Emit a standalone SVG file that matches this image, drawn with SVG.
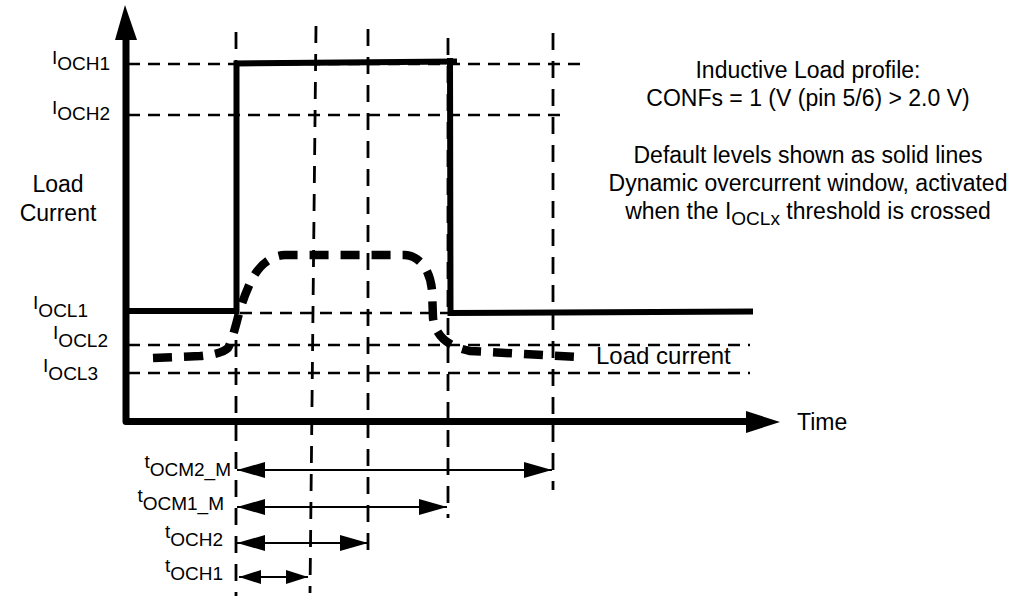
<svg xmlns="http://www.w3.org/2000/svg" width="1026" height="596" viewBox="0 0 1026 596">
<style>
text{font-family:"Liberation Sans",Arial,sans-serif;fill:#000}
.big{font-size:23px}
.lab{font-size:19px}
.sub{font-size:19px}
.vd{stroke:#000;stroke-width:2.8;stroke-dasharray:17 11;fill:none}
.hd{stroke:#000;stroke-width:2.5;stroke-dasharray:12 8;fill:none}
.ax{stroke:#000;stroke-width:7;fill:none;stroke-linejoin:round;stroke-linecap:round}
.sig{stroke:#000;stroke-width:6;fill:none;stroke-linejoin:miter}
.load{stroke:#000;stroke-width:8.5;fill:none;stroke-dasharray:19 12}
.dim{stroke:#000;stroke-width:2;fill:none;marker-start:url(#ah);marker-end:url(#ah)}
.dims{stroke:#000;stroke-width:2;fill:none;marker-start:url(#ahs);marker-end:url(#ahs)}
</style>
<defs>
<marker id="ah" viewBox="0 0 28 16" refX="28" refY="8" markerWidth="28" markerHeight="16" markerUnits="userSpaceOnUse" orient="auto-start-reverse">
<path d="M0,0 L28,8 L0,16 Z" fill="#000"/>
</marker>
<marker id="ahs" viewBox="0 0 22 14" refX="22" refY="7" markerWidth="22" markerHeight="14" markerUnits="userSpaceOnUse" orient="auto-start-reverse">
<path d="M0,0 L22,7 L0,14 Z" fill="#000"/>
</marker>
</defs>
<rect width="1026" height="596" fill="#fff"/>

<g id="gridlines">
<line class="hd" x1="128" y1="64" x2="580" y2="64"/>
<line class="hd" x1="128" y1="115" x2="567" y2="115"/>
<line class="hd" x1="240" y1="313" x2="450" y2="313"/>
<line class="hd" x1="128" y1="345" x2="750" y2="345"/>
<line class="hd" x1="128" y1="373" x2="750" y2="373"/>
<line class="vd" x1="236" y1="32" x2="236" y2="596"/>
<line class="vd" x1="316" y1="26" x2="310" y2="593"/>
<line class="vd" x1="368" y1="29" x2="368" y2="557"/>
<line class="vd" x1="448" y1="38" x2="448" y2="518"/>
<line class="vd" x1="553" y1="33" x2="553" y2="490"/>
</g>

<g id="axes">
<path class="ax" d="M126,38 L126,421.5 L750,421.5"/>
<polygon points="125,5 137,40 115,40" fill="#000"/>
<polygon points="780,422 746,411 746,433" fill="#000"/>
</g>

<g id="signal">
<path class="sig" d="M126,311 L236.5,311 L236.5,63.5 L457,61.5"/>
<path class="sig" d="M450,58 L450.5,313 L753,311.5"/>
</g>

<g id="load-current">
<path class="load" d="M153,358 L200,356 Q222,354 228,348 C235,335 238,310 248,288 C256,268 268,256 285,255 L405,255 C420,256 430,270 432,290 L433,318 C436,338 450,347 470,351 L580,357"/>
</g>

<g id="connectors">
<line class="dim" x1="237" y1="470" x2="552" y2="470"/>
<line class="dim" x1="237" y1="507" x2="447" y2="507"/>
<line class="dim" x1="237" y1="543" x2="368" y2="543"/>
<line class="dims" x1="239" y1="577" x2="308" y2="577"/>
</g>

<g id="labels">
<text class="lab" x="110" y="64" text-anchor="end">I<tspan class="sub" dy="6">OCH1</tspan></text>
<text class="lab" x="110" y="114" text-anchor="end">I<tspan class="sub" dy="6">OCH2</tspan></text>
<text class="lab" x="88" y="309" text-anchor="end">I<tspan class="sub" dy="8">OCL1</tspan></text>
<text class="lab" x="108" y="339" text-anchor="end">I<tspan class="sub" dy="8">OCL2</tspan></text>
<text class="lab" x="98" y="372" text-anchor="end">I<tspan class="sub" dy="8">OCL3</tspan></text>
<text class="big" x="58" y="192" text-anchor="middle">Load</text>
<text class="big" x="58" y="221" text-anchor="middle">Current</text>
<text class="big" x="797" y="430">Time</text>
<text x="596" y="364" style="font-size:24px">Load current</text>
<text class="lab" x="231" y="468" text-anchor="end">t<tspan class="sub" dy="8">OCM2_M</tspan></text>
<text class="lab" x="224" y="502" text-anchor="end">t<tspan class="sub" dy="8">OCM1_M</tspan></text>
<text class="lab" x="223" y="538" text-anchor="end">t<tspan class="sub" dy="8">OCH2</tspan></text>
<text class="lab" x="223" y="572" text-anchor="end">t<tspan class="sub" dy="8">OCH1</tspan></text>
</g>

<g id="note">
<text class="big" x="808" y="78" text-anchor="middle">Inductive Load profile:</text>
<text class="big" x="808" y="106" text-anchor="middle">CONFs = 1 (V (pin 5/6) &gt; 2.0 V)</text>
<text class="big" x="808" y="163" text-anchor="middle">Default levels shown as solid lines</text>
<text class="big" x="808" y="191" text-anchor="middle">Dynamic overcurrent window, activated</text>
<text class="big" x="808" y="219" text-anchor="middle">when the I<tspan class="sub" dy="6">OCLx</tspan><tspan dy="-6"> threshold is crossed</tspan></text>
</g>
</svg>
